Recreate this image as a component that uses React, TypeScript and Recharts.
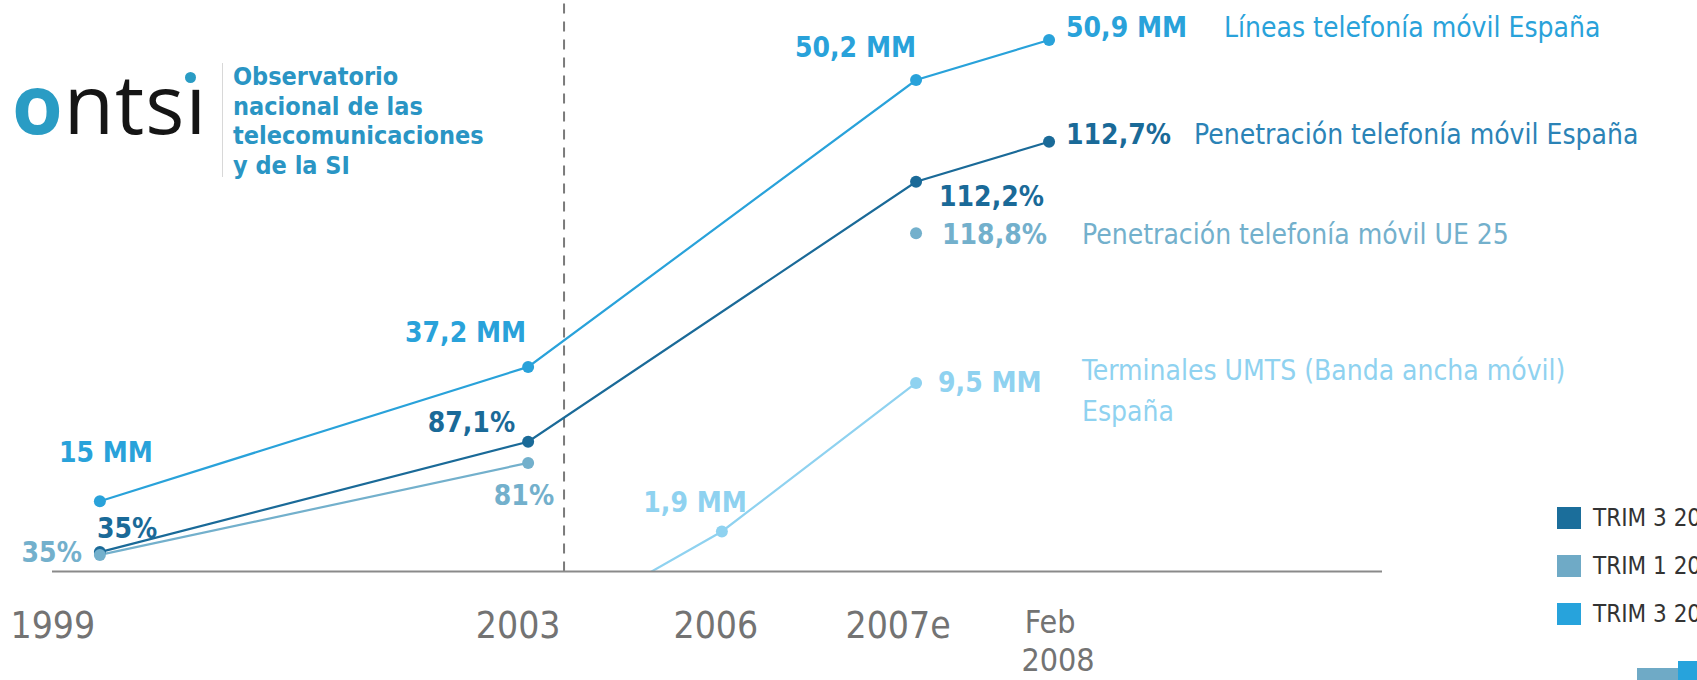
import React from 'react';
import { LineChart, Line, XAxis, YAxis, ReferenceLine, LabelList } from 'recharts';

// periods on the time line and where each sits along it (uneven spacing of the original graphic)
const periods = ['1999', '2003', '2006', '2007e', 'Feb 2008'];
const periodSlots = [1.08, 10.74, 15.11, 19.49, 22.49];
const dividerSlot = 11.55;

// values printed next to the points
const lineasText = ['15 MM', '37,2 MM', null, '50,2 MM', '50,9 MM'];
const penEsText = ['35%', '87,1%', null, '112,2%', '112,7%'];
const penUeText = ['35%', '81%', null, '118,8%', null];
const umtsText = [null, null, '1,9 MM', '9,5 MM', null];

// heights of the points as drawn in the graphic (share of plot height, 0-100)
const lineasHeight = [12.3, 35.8, null, 86.0, 93.0];
const penEsHeight = [3.4, 22.7, null, 68.2, 75.2];
const penUeHeight = [2.9, 19.0, null, 59.2, null];
const umtsHeight = [null, -12.3, 7.0, 33.0, null];

const seriesNames = {
  lineas: ['Líneas telefonía móvil España'],
  penEs: ['Penetración telefonía móvil España'],
  penUe: ['Penetración telefonía móvil UE 25'],
  umts: ['Terminales UMTS (Banda ancha móvil)', 'España'],
};

const legendItems = ['TRIM 3 2007', 'TRIM 1 2007', 'TRIM 3 2007'];

const data = periods.map((p, i) => ({
  period: p,
  t: periodSlots[i],
  lineas: lineasHeight[i],
  penEs: penEsHeight[i],
  penUe: penUeHeight[i],
  umts: umtsHeight[i],
  lineasLbl: lineasText[i],
  penEsLbl: penEsText[i],
  penUeLbl: penUeText[i],
  umtsLbl: umtsText[i],
}));

const FONT = '"DejaVu Sans Condensed", "Liberation Sans Narrow", "DejaVu Sans", sans-serif';

const C = {
  lineas: '#29a2da',
  penEs: '#1a6a98',
  penEsName: '#2b83b6',
  penUe: '#73b0cc',
  umts: '#8fd2f0',
  axis: '#8a8a8a',
  tick: '#737373',
};

type Spot = { dx: number; dy: number; anchor: 'start' | 'end' | 'middle' } | null;

// label placement around each point
const lineasSpots: Spot[] = [
  { dx: -41, dy: -49, anchor: 'start' },
  { dx: -2, dy: -34, anchor: 'end' },
  null,
  { dx: 0, dy: -33, anchor: 'end' },
  { dx: 17, dy: -13, anchor: 'start' },
];
const penEsSpots: Spot[] = [
  { dx: -3, dy: -24, anchor: 'start' },
  { dx: -13, dy: -19, anchor: 'end' },
  null,
  { dx: 23, dy: 15, anchor: 'start' },
  { dx: 17, dy: -7, anchor: 'start' },
];
const penUeSpots: Spot[] = [
  { dx: -18, dy: -2, anchor: 'end' },
  { dx: 26, dy: 33, anchor: 'end' },
  null,
  { dx: 26, dy: 1, anchor: 'start' },
  null,
];
const umtsSpots: Spot[] = [
  null,
  null,
  { dx: 25, dy: -29, anchor: 'end' },
  { dx: 22, dy: 0, anchor: 'start' },
  null,
];

const makeLabel = (
  spots: Spot[],
  color: string,
  nameIdx: number,
  name: string[],
  nameDx: number,
  nameDy: number,
  nameColor: string,
) => (props: any) => {
  const { x, y, value, index } = props;
  if (value == null || x == null || y == null) return null;
  const s = spots[index];
  if (!s) return null;
  return (
    <g>
      <text
        x={x + s.dx}
        y={y + s.dy}
        textAnchor={s.anchor}
        dominantBaseline="central"
        fill={color}
        fontFamily={FONT}
        fontWeight={700}
        fontSize={28}
      >
        {value}
      </text>
      {index === nameIdx &&
        name.map((n, k) => (
          <text
            key={k}
            x={x + nameDx}
            y={y + nameDy + k * 41}
            dominantBaseline="central"
            fill={nameColor}
            fontFamily={FONT}
            fontSize={28}
          >
            {n}
          </text>
        ))}
    </g>
  );
};

const tickShift = [-47, -10, -6, -18, 1];

const PeriodTick = (props: any) => {
  const { x, y, payload } = props;
  const i = periodSlots.indexOf(payload.value);
  if (i < 0) return null;
  const lines = periods[i].split(' ');
  const multi = lines.length > 1;
  return (
    <g>
      {lines.map((l, k) => (
        <text
          key={k}
          x={x + tickShift[i] + k * 8}
          y={y + (multi ? 50 : 54) + k * 38}
          textAnchor="middle"
          dominantBaseline="central"
          fill={C.tick}
          fontFamily={FONT}
          fontSize={multi ? 32 : 37}
        >
          {l}
        </text>
      ))}
    </g>
  );
};

const Logo = () => (
  <div style={{ position: 'absolute', left: 0, top: 0 }}>
    <div
      style={{
        position: 'absolute',
        left: 12,
        top: 52,
        fontFamily: '"Open Sans", sans-serif',
        fontSize: 82,
        lineHeight: '100px',
        letterSpacing: 1,
        color: '#151515',
      }}
    >
      <span style={{ color: '#2a9cc4', fontWeight: 700 }}>o</span>
      <span>nts</span>
      <span>ı</span>
    </div>
    <div
      style={{
        position: 'absolute',
        left: 185,
        top: 72,
        width: 11,
        height: 11,
        borderRadius: 6,
        background: '#2a9cc4',
      }}
    />
    <div style={{ position: 'absolute', left: 222, top: 63, width: 1, height: 114, background: '#d8d8d8' }} />
    <div
      style={{
        position: 'absolute',
        left: 233,
        top: 62,
        fontFamily: FONT,
        fontWeight: 700,
        fontSize: 25,
        lineHeight: '29.5px',
        color: '#2a95c4',
        whiteSpace: 'nowrap',
      }}
    >
      Observatorio
      <br />
      nacional de las
      <br />
      telecomunicaciones
      <br />y de la SI
    </div>
  </div>
);

const legendColors = ['#1b6e9b', '#6faac6', '#27a3dc'];

const App: React.FC = () => {
  return (
    <div
      style={{
        position: 'absolute',
        left: 0,
        top: 0,
        width: 1697,
        height: 680,
        background: '#fff',
        overflow: 'hidden',
      }}
    >
      <LineChart width={1697} height={680} data={data} margin={{ top: 0, right: 315, bottom: 28.5, left: 52 }}>
        <XAxis
          type="number"
          dataKey="t"
          domain={[0, 30]}
          ticks={periodSlots}
          interval={0}
          height={80}
          tickLine={false}
          tickSize={0}
          tickMargin={0}
          axisLine={{ stroke: C.axis, strokeWidth: 2 }}
          tick={<PeriodTick />}
        />
        <YAxis hide domain={[0, 100]} allowDataOverflow />
        <ReferenceLine x={dividerSlot} stroke="#7a7a7a" strokeWidth={2} strokeDasharray="10 8" />
        <Line
          dataKey="umts"
          stroke={C.umts}
          strokeWidth={2.2}
          dot={{ r: 6, fill: C.umts, stroke: C.umts, strokeWidth: 0 }}
          isAnimationActive={false}
        >
          <LabelList
            dataKey="umtsLbl"
            content={makeLabel(umtsSpots, C.umts, 3, seriesNames.umts, 166, -12, C.umts)}
          />
        </Line>
        <Line
          dataKey="penEs"
          stroke={C.penEs}
          strokeWidth={2.2}
          connectNulls
          dot={{ r: 6, fill: C.penEs, stroke: C.penEs, strokeWidth: 0 }}
          isAnimationActive={false}
        >
          <LabelList
            dataKey="penEsLbl"
            content={makeLabel(penEsSpots, C.penEs, 4, seriesNames.penEs, 145, -7, C.penEsName)}
          />
        </Line>
        <Line
          dataKey="penUe"
          stroke={C.penUe}
          strokeWidth={2.2}
          dot={{ r: 6, fill: C.penUe, stroke: C.penUe, strokeWidth: 0 }}
          isAnimationActive={false}
        >
          <LabelList
            dataKey="penUeLbl"
            content={makeLabel(penUeSpots, C.penUe, 3, seriesNames.penUe, 166, 1, C.penUe)}
          />
        </Line>
        <Line
          dataKey="lineas"
          stroke={C.lineas}
          strokeWidth={2.2}
          connectNulls
          dot={{ r: 6, fill: C.lineas, stroke: C.lineas, strokeWidth: 0 }}
          isAnimationActive={false}
        >
          <LabelList
            dataKey="lineasLbl"
            content={makeLabel(lineasSpots, C.lineas, 4, seriesNames.lineas, 175, -13, C.lineas)}
          />
        </Line>
      </LineChart>
      <Logo />
      {legendItems.map((t, i) => (
        <div
          key={i}
          style={{
            position: 'absolute',
            left: 1557,
            top: 504 + i * 48,
            display: 'flex',
            alignItems: 'center',
            whiteSpace: 'nowrap',
          }}
        >
          <div style={{ width: 24, height: 22, background: legendColors[i], marginRight: 12 }} />
          <span style={{ fontFamily: FONT, fontSize: 24, color: '#333' }}>{t}</span>
        </div>
      ))}
      <div style={{ position: 'absolute', left: 1637, top: 668, width: 41, height: 12, background: '#6faac6' }} />
      <div style={{ position: 'absolute', left: 1678, top: 661, width: 19, height: 19, background: '#27a3dc' }} />
    </div>
  );
};

export default App;
